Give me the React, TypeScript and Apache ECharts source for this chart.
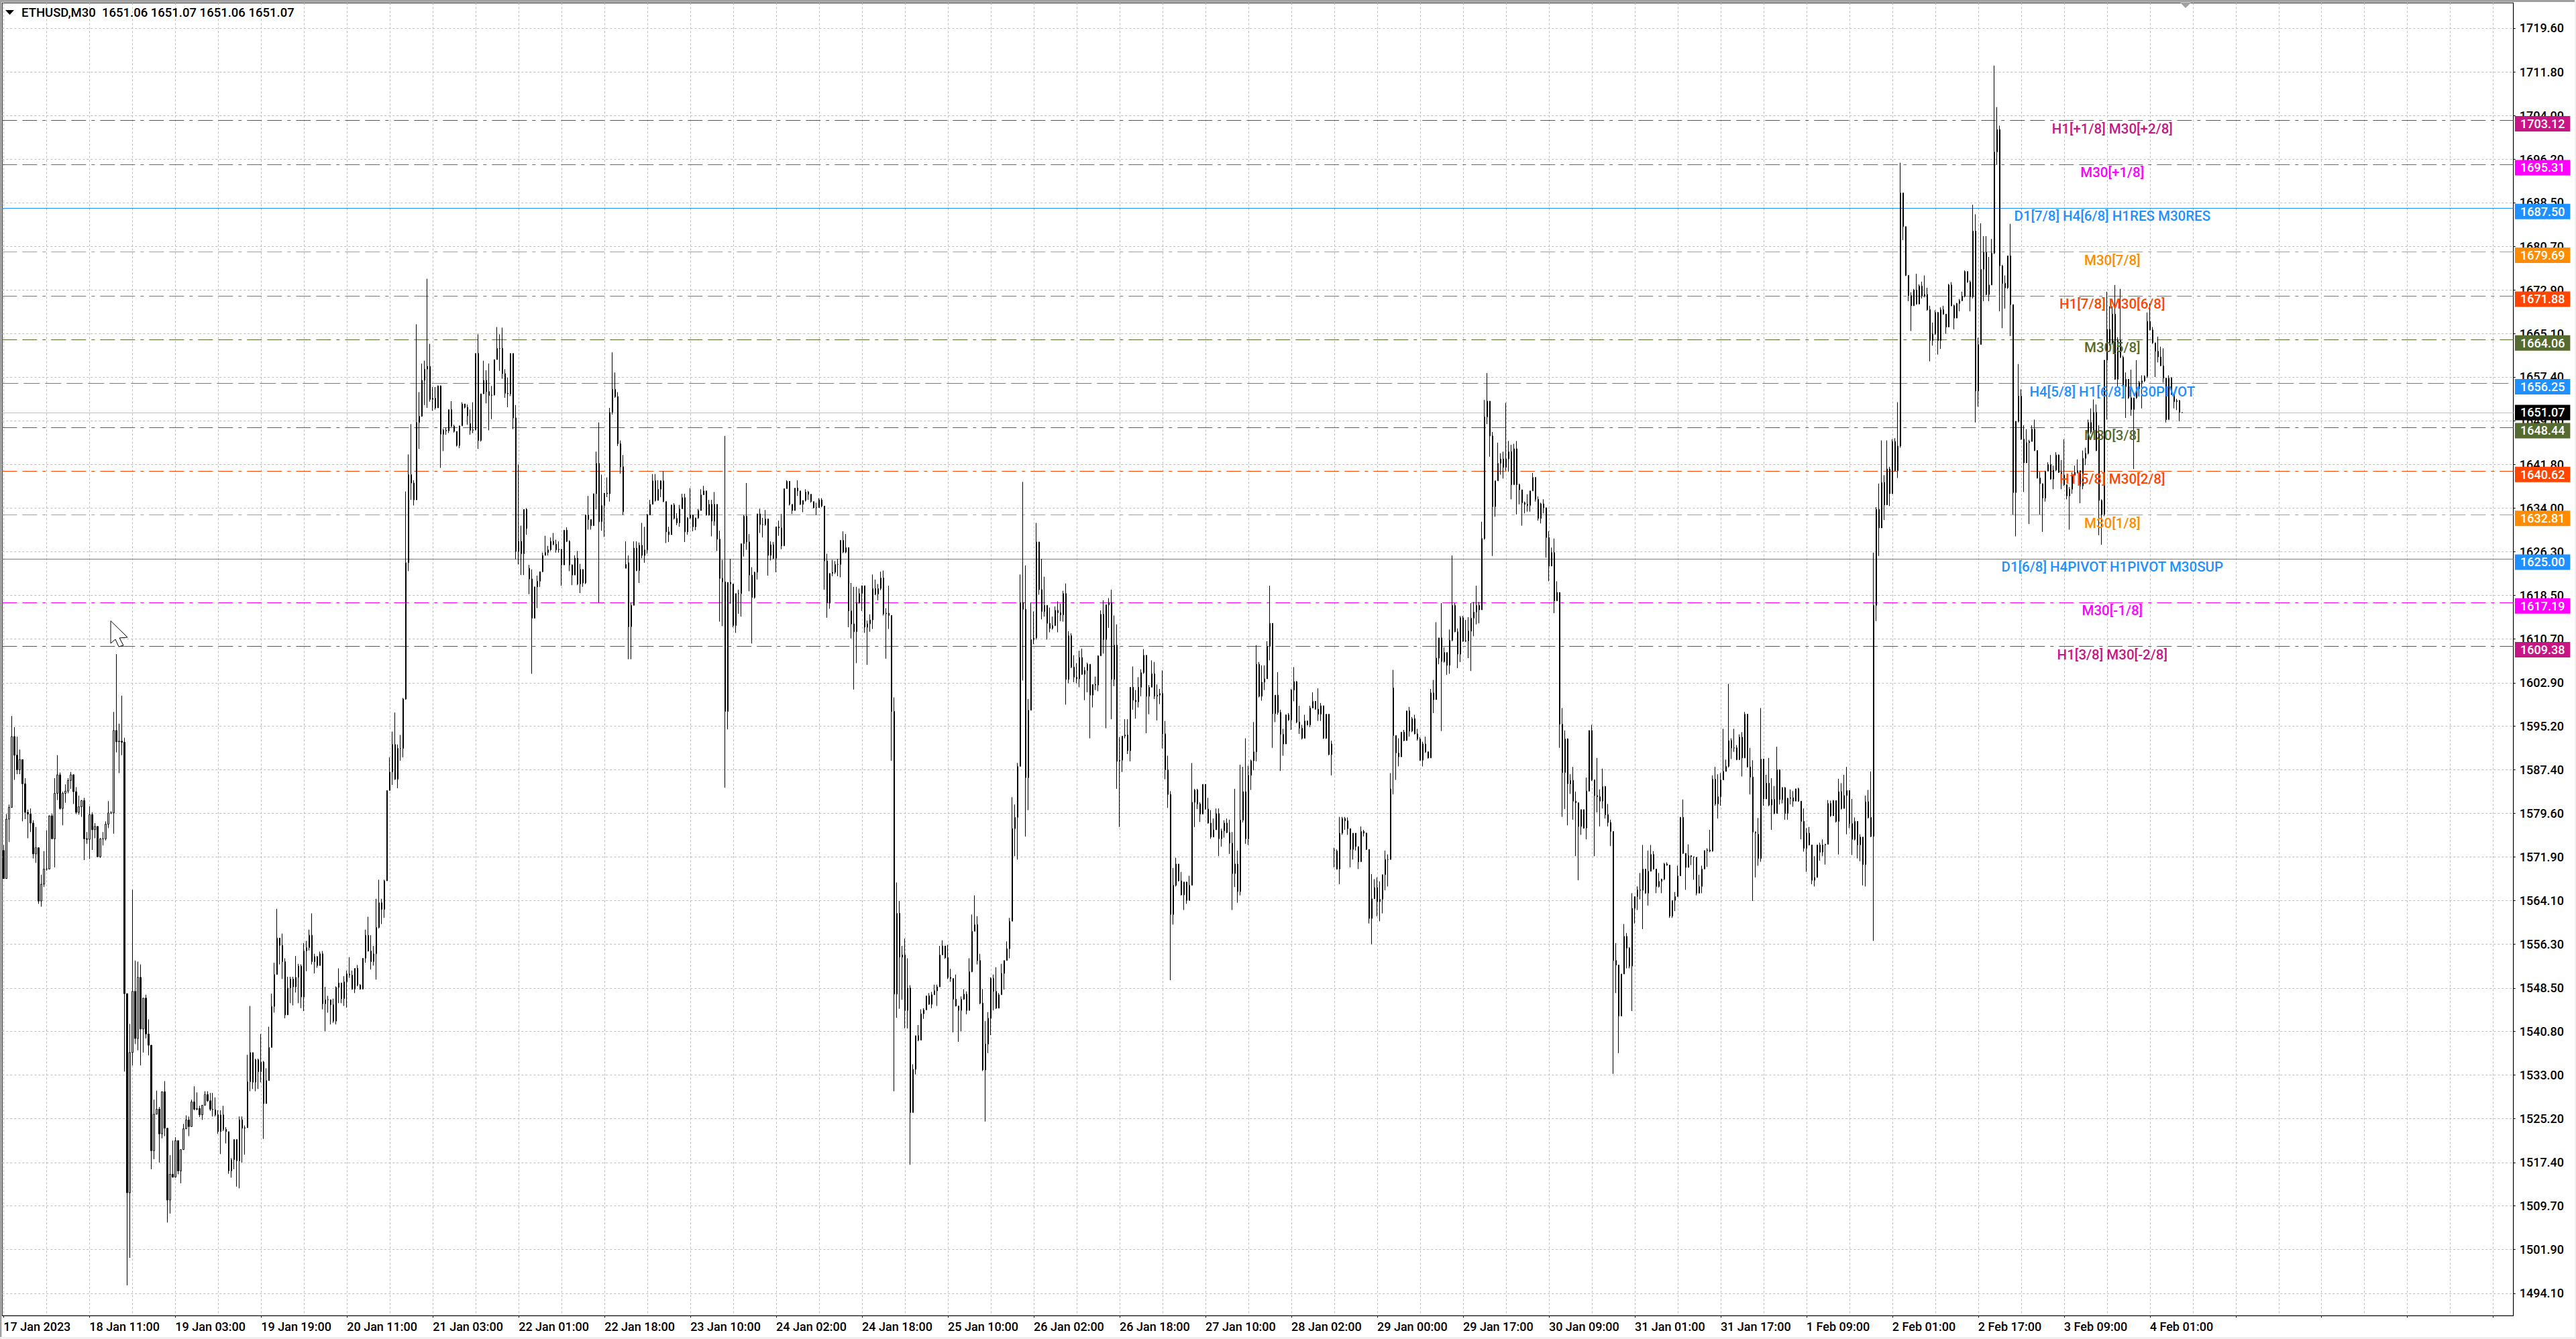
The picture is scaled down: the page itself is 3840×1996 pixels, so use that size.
import React, { useEffect, useRef } from "react";
import * as echarts from "echarts";

// each bar: [close, low, high, optional open]; open defaults to the previous close
const firstOpen = 1573;
const bars17Jan = [[1568,1568,1574],[1578.6,1568,1579.5],[1580.7,1574.5,1581.2],[1593.3,1580.7,1597],[1590,1585.6,1595],[1587.4,1586.6,1593.3],[1589.2,1586.6,1591],[1584.9,1578.2,1589.2],[1579.8,1578.6,1585.9],[1579.5,1575.2,1580.3],[1577.9,1576.3,1580.5],[1572.4,1571.6,1578.4],[1573.5,1570.8,1577.2],[1564,1563.5,1573.5],[1567,1563,1568.7],[1569.7,1566.5,1572.9],[1569.7,1569.4,1576.6],[1579.2,1569.7,1579.2],[1575.1,1575,1579.6],[1583.2,1570,1585.9],[1586.5,1582,1590],[1580.5,1580.3,1586.9],[1583.2,1577.5,1583.5],[1583.6,1581.5,1584.8],[1585.5,1583.2,1585.9],[1586.5,1584,1587],[1583.5,1581.3,1586.6],[1579.8,1579.5,1584.3],[1580.8,1579.4,1582.8],[1581.9,1579,1582],[1575.1,1571.3,1582.4],[1575,1574.2,1576.3],[1579.4,1571.5,1580.9],[1576.7,1573.1,1579.8],[1577.3,1575.2,1577.9],[1571.9,1571.8,1577],[1575.1,1571.7,1575.2],[1575.1,1573.9,1576.3],[1577.7,1574.8,1578.2],[1579.7,1577,1581.8],[1579.7,1579.5,1580],[1594.4,1576,1597.7],[1592.4,1590.5,1608],[1592.5,1586.8,1595.6],[1592.3,1590,1600.6],[1547.5,1533.6,1593.1],[1512,1495.5,1547.5],[1537,1500.4,1542.1],[1547.9,1534.7,1566],[1539.5,1538.5,1553.4],[1550.4,1537.4,1553.2],[1541.2,1534.7,1552.7],[1546.7,1537,1546.7],[1540.3,1539.5,1547.3],[1538.3,1536.5,1542.9],[1519.5,1516.2,1538.3],[1526,1518,1528.6],[1526.9,1526,1530.2],[1522.5,1517.4,1527.3],[1530,1521.7,1530],[1523.5,1522.1,1531.9],[1510.7,1506.7,1523.5],[1515.3,1508.3,1518.7],[1514.8,1514.7,1521.3],[1521.3,1514.7,1521.9],[1515.9,1515.3,1521.3],[1519.7,1513.7,1519.7],[1523.4,1519.7,1524.3],[1525,1523.4,1525.8],[1523.8,1522.1,1525.6],[1528.2,1523.8,1528.6],[1526.9,1526.7,1531],[1527,1526.7,1529.9],[1525.9,1525.5,1527.5],[1527.6,1525,1527.6],[1529.5,1527.6,1530.1],[1528.4,1528.2,1530.1],[1526.9,1526.6,1529.8],[1526.8,1525.6,1529.8],[1525.9,1525.6,1529],[1522.9,1522.5,1526.7],[1525.9,1518.9,1526.7],[1523.3,1523,1527.5],[1522.9,1520.8,1523.7],[1515.9,1515.4,1522.7],[1517.9,1514.7,1518.2],[1521.5,1516.2,1521.5],[1517.7,1513.1,1521.5],[1525,1512.8,1525.6],[1523.5,1517.4,1525.6],[1523.6,1518.8,1524],[1531.8,1523.6,1536.6],[1537,1530.1,1545.3],[1531.7,1530.5,1537],[1535.7,1530.1,1535.9],[1533.6,1530.5,1535.9],[1535.3,1531.7,1540.3],[1527.9,1521.6,1535.5],[1532,1527.9,1534.2],[1537.9,1532,1541.6],[1545.2,1537.9,1547.5],[1550.9,1544.1,1553],[1557.4,1550.9,1562.6],[1556.1,1552.7,1557.4],[1553.2,1550.1,1558.2],[1543.7,1543.1,1553.8],[1548.5,1543.7,1550.5],[1550.1,1545.8,1550.5],[1548.7,1545.4,1550.5],[1550.4,1547.7,1554.2],[1552.4,1545.8,1552.8],[1546.9,1544.9,1552.7],[1555.1,1544.4,1556.5],[1555.7,1551.5,1556.9],[1557.9,1555.2,1558.9],[1553.2,1552.7,1561.8],[1554.1,1551.1,1554.6],[1552.5,1552.1,1554.2],[1554.6,1552.5,1555],[1545.7,1544.7,1555.1],[1546.4,1540.8,1548.7],[1546.4,1544.1,1547.1],[1545.5,1542,1546],[1542.6,1542.3,1546.6]];
const bars20Jan = [[1548.6,1542,1548.8],[1549.4,1545.8,1552],[1546.6,1545.8,1549.4],[1549.6,1545.3,1550.6],[1551,1545,1551.6],[1550.8,1550.3,1554],[1548.3,1548.2,1551.6],[1552,1547.6,1552],[1549,1548.8,1552.6],[1548.3,1548.2,1549.2],[1553.8,1548.3,1553.8],[1557.9,1553,1558.9],[1555.1,1555,1561.2],[1553.2,1551.8,1557.9],[1554.6,1552.5,1556],[1559.3,1550,1564.4],[1563.7,1559.1,1567.8],[1562.5,1559.9,1564.4],[1567.6,1561,1567.8],[1583.7,1567.6,1583.7],[1587,1583.7,1589.6],[1591.9,1584.7,1594.2],[1585.7,1585.6,1597.6],[1591.2,1584.1,1591.9],[1591.2,1589,1593.6],[1600,1589.6,1600.2],[1624.3,1599.9,1637],[1640,1622.8,1643.6],[1638.5,1635.5,1649],[1635.5,1634.5,1639],[1649.3,1635.5,1666.8],[1650.4,1644.6,1654.7],[1656.8,1650.3,1659.8],[1658.8,1652.4,1660.3],[1659.3,1651.9,1674.9],[1653.4,1653,1663.3],[1653.6,1651.4,1655.6],[1651.9,1651.6,1655.6],[1655.8,1651.9,1655.9],[1647.2,1641.2,1655.9],[1647.9,1644.2,1648.2],[1647.8,1647.1,1648.4],[1651.6,1647.4,1651.6],[1648.6,1648.5,1653.1],[1647.7,1647.5,1648.9],[1645.2,1645,1647.7],[1648.7,1644.7,1648.7],[1652.6,1648.7,1652.9],[1652,1651.8,1652.6],[1650.5,1648.9,1652.5],[1647.9,1647.1,1651.6,1649.1],[1648,1647.4,1652.9],[1661.6,1647.9,1661.6],[1646.1,1644.6,1665],[1654.4,1645.9,1654.4],[1656.8,1654.4,1660.3],[1654.8,1652.7,1658.6],[1654.1,1647.9,1659.8],[1654.2,1649.9,1655.8],[1660.5,1654.1,1660.5],[1662.5,1660.5,1666.3],[1662.5,1658.5,1665],[1658,1657.1,1666.2],[1654.5,1653.7,1658.8],[1654.4,1652,1657.3],[1661.6,1654,1661.6],[1650.1,1648.1,1661.6],[1626.3,1624.9,1652.4],[1628.1,1624,1641.8],[1625.9,1622.1,1630.9],[1633.8,1622.1,1633.8],[1630.4,1629.3,1634],[1621.4,1618.7,1623.9,1623.3],[1614.4,1604.5,1623.1],[1620,1614.4,1620],[1621,1616.2,1622],[1622.7,1620,1622.7],[1625.6,1622.6,1626.1],[1626.1,1625.8,1629.1],[1626.6,1625.6,1627.3],[1628.1,1626.4,1628.8],[1627.6,1627.4,1629.6],[1626.6,1626.1,1628.4],[1626.7,1626.1,1628.1],[1623.9,1620.2,1626.6],[1630.1,1623.9,1630.1],[1628.1,1628,1630.6],[1623.9,1622.8,1628.3],[1622.1,1620.3,1624],[1625.1,1622.1,1625.6],[1620.5,1620.3,1626.4],[1623.1,1618.9,1624.1],[1620.7,1620,1623.1],[1632.8,1620.5,1632.9],[1632,1630.2,1636.2],[1630.9,1630.2,1632],[1636.6,1630.9,1636.6],[1642,1633.8,1644.1],[1631.6,1617.2,1649.3],[1634.5,1630,1640],[1636.7,1628.9,1636.7],[1636.6,1636,1639.5],[1651.1,1635.2,1651.9],[1655.2,1650.7,1661.8],[1653.9,1653.7,1658.2],[1645.5,1645.1,1654.7],[1641.4,1640.2,1646.1],[1633.4,1632.8,1643.5],[1624,1623.4,1628.1,1623.3],[1612.9,1607.1,1625.6,1624.3],[1616.7,1607.1,1617.2],[1626.9,1616.7,1628.1],[1622.9,1622.8,1628.1],[1627.4,1620.7,1627.9],[1625.6,1625.1,1631.4]];
const bars22Jan = [[1626.6,1624.3,1630.7],[1632.8,1625.9,1633],[1634.7,1632.8,1635.5],[1638.9,1634.7,1640.1],[1635.4,1635.2,1640.1],[1637.4,1635.4,1639],[1638.9,1636,1639],[1635.2,1635.1,1640.6],[1629.8,1627.8,1635.2],[1629.3,1628,1630.7],[1634.6,1629.3,1634.6],[1632.2,1632,1634.9],[1631.4,1631,1633.1],[1633.9,1630.7,1634.6],[1635.9,1633.9,1636.6],[1629.8,1628,1636.6],[1632.3,1629.3,1632.4],[1632.8,1632.1,1637.6],[1630.7,1629.9,1632.8],[1632.3,1630.1,1632.3],[1633.6,1632.1,1633.9],[1636.4,1633.6,1637.4],[1637.1,1636.4,1638],[1632.8,1632.7,1637.1],[1634.7,1632.7,1635.5],[1631.7,1629,1635.5],[1634.7,1630.9,1636.9],[1628.5,1626.4,1634.7],[1621.5,1613.8,1630],[1620.9,1613,1624.8],[1597.8,1584.2,1646.9],[1620.8,1594.6,1620.8],[1620.5,1617,1625],[1613.1,1612.8,1620],[1618.8,1611.8,1618.8],[1618.8,1615.2,1619.5],[1627.7,1614.7,1627.7],[1632.6,1625.4,1632.8],[1628,1626.6,1638.5],[1622.1,1619.2,1629.4],[1618.1,1609.9,1623.5],[1622.6,1617.9,1622.7],[1633,1621.3,1633],[1631.1,1629.6,1633.9],[1631.1,1628.8,1632.3],[1632.1,1630.9,1633.7],[1625.6,1622,1632.1],[1627.5,1624.7,1628.1],[1625.1,1625,1628],[1630.7,1622.6,1630.7],[1630.5,1629.1,1631.8],[1627.3,1626.7,1633],[1637.5,1627.3,1637.5],[1638.8,1637.5,1639],[1634.7,1634.5,1638.8],[1633.6,1633,1634.6],[1637.6,1633.6,1637.6],[1637.1,1636.2,1639],[1634.7,1634.6,1636.9],[1635.4,1633.3,1635.4],[1636.9,1635.2,1637.4],[1636.5,1635.5,1637.1],[1635.2,1635,1636.1],[1634.1,1634,1635],[1634.1,1632.8,1635],[1635.5,1634.1,1635.8],[1634.4,1634.2,1635.8],[1624.6,1619.5,1634.3],[1617.1,1614.5,1625.9],[1622.4,1616.1,1622.4],[1622.6,1621.9,1624.8],[1624,1622.3,1624.6],[1624,1621.9,1625],[1628.3,1621.7,1628.3],[1626.2,1626,1629.9],[1627,1626,1629.4],[1615.7,1612.8,1627],[1613.4,1610.8,1620.7],[1612,1601.7,1620],[1617.2,1606.4,1620],[1618.8,1617,1619.7],[1620.2,1615.7,1620.2],[1612.8,1611.8,1620.2],[1613.4,1606.1,1614],[1614.1,1612,1615.1],[1619.7,1612.5,1622.2],[1618.7,1618.5,1621.3],[1619.7,1617.6,1620.5],[1621.6,1619.4,1622.7],[1615.2,1614.9,1622.9],[1615.3,1607.2,1616.2],[1614.9,1612.5,1620.2],[1597.8,1589,1614.9],[1547.4,1530.1,1600.3],[1561.8,1543.2,1567.3],[1554,1544.8,1564],[1554.4,1546.4,1556],[1544.5,1541.3,1557.3],[1548.5,1541.3,1553.8],[1526.3,1517,1549],[1534,1526.3,1534.9],[1540,1533.1,1540],[1539.2,1539,1541.9],[1543.9,1539.2,1544.7],[1544.6,1543,1544.9],[1547.1,1544.6,1547.1],[1545.6,1545.5,1547.6],[1547.3,1544.9,1547.8],[1548,1547.3,1549.1],[1548.7,1545.3,1549.1],[1554.4,1548.7,1556],[1556,1554.4,1557],[1553.9,1553.7,1556],[1550.4,1550.1,1556.2],[1550.2,1549.6,1551.9]];
const bars25Jan = [[1546.5,1540.6,1550],[1545.3,1545.2,1550.9],[1544.5,1538.9,1545.3],[1546.5,1540.8,1547],[1547.4,1546.4,1548.3],[1544.5,1543.8,1547.9],[1551.4,1544.5,1553.8],[1558.6,1551.3,1561.6],[1559.8,1558.6,1565],[1553.4,1552.7,1561.3],[1545.8,1545.6,1554.6],[1533.9,1533.7,1548.3],[1538.5,1524.7,1542.6],[1543.1,1536.9,1544.2],[1550.2,1540.1,1550.4],[1547.9,1544.5,1550.9],[1544.9,1544.8,1552.2],[1547.3,1544.9,1547.6],[1551.1,1547.3,1552.8],[1553.4,1548.2,1553.4],[1555.5,1553.4,1556.8],[1560.4,1553.8,1561],[1576.9,1560.4,1582.5],[1578.9,1572,1581.2],[1588,1571.4,1588.6],[1617.2,1588,1622.2],[1616,1603.3,1638.7],[1586,1575.5,1623.8],[1598,1580.2,1600],[1610.6,1598,1617.2],[1610.9,1609.8,1615.6],[1628,1610.6,1631.4],[1619.5,1618.6,1628],[1615.6,1614.2,1625],[1616.7,1614.7,1621.8],[1613.5,1610.6,1616.5],[1612.6,1611.9,1616.3],[1613.1,1612.4,1614.7],[1615.8,1613,1616.5],[1615.4,1611.9,1617.4],[1615,1613.9,1617],[1618.8,1613.8,1619.3],[1603.5,1599,1620.6],[1611.3,1602.8,1612.1],[1605.7,1605.5,1611.7],[1603.9,1603,1607.8],[1603.6,1602.8,1606.4],[1607.4,1602.1,1608.6],[1604.4,1604.3,1609],[1605.1,1599.8,1605.7],[1606.2,1601.2,1606.5],[1600.7,1593,1605.8],[1602.6,1598.5,1602.6],[1602.5,1601.6,1604],[1607.7,1601.4,1607.8],[1615.1,1607.7,1615.8],[1610.6,1608.1,1617.6],[1616.8,1594.8,1616.8],[1617.2,1612.7,1618],[1603.5,1596.4,1619.5],[1609.6,1602.3,1614.9],[1588.9,1584,1613.3],[1589.1,1577.2,1593.2],[1593.4,1587,1593.4],[1593.6,1593,1596.4],[1590.8,1590.2,1596.4],[1602.1,1588.9,1602.1],[1599.8,1598.1,1605.8],[1599.5,1596.5,1601.6],[1602.1,1598.5,1603.9],[1604.7,1600.5,1605.3],[1607.8,1604.5,1608.9],[1600.5,1593.9,1607.8],[1602.1,1597.3,1602.5],[1604.5,1602.1,1606.9],[1600.5,1600,1606.6],[1600.7,1596.2,1602.6],[1601,1599.1,1601.8],[1593.8,1591.2,1605.1],[1587.4,1585.7,1596.1],[1583,1580.6,1589.9],[1561.6,1549.9,1583.6],[1566.8,1559.8,1569.9],[1570.6,1566.6,1571.7],[1567.6,1567.5,1570.6],[1565.1,1565,1569.2],[1567.4,1562.4,1567.4],[1564.1,1563.5,1567.4],[1566.8,1564.1,1568.5],[1581.6,1566.8,1588.6],[1583.8,1577.2,1584],[1581.3,1580.4,1584],[1579.5,1578.1,1581.6],[1584.8,1579.5,1584.8],[1580.4,1580.3,1584.8],[1577.9,1577.8,1582.4],[1575.4,1575.1,1580.2],[1576.7,1575.4,1578.7],[1579.6,1576.7,1580.5],[1575.1,1572,1580.5],[1576.5,1573.7,1576.9],[1577.9,1575.3,1578.4],[1576.2,1576.1,1578.7],[1574.3,1572.4,1578.5],[1568.9,1562.4,1576.3],[1570.6,1566.5,1584],[1565.7,1563.7,1573],[1578.4,1565,1588.3],[1583.5,1578,1587.9],[1575.1,1574.2,1593],[1586.4,1574,1588.1],[1589,1583.8,1589.2],[1590.6,1587.3,1595.9],[1606.2,1588.9,1609.6],[1600.5,1600.3,1606.6]];
const bars27Jan = [[1603,1599.7,1606],[1603.6,1601.6,1606],[1609.4,1603.6,1610.3],[1613.5,1606.9,1620.2],[1597.4,1591.3,1613.5],[1600.7,1595.9,1600.7],[1597.6,1597.2,1604.8],[1593.7,1587.2,1598.1],[1592,1589.9,1594.7],[1597.2,1592,1597.2],[1596.3,1596.1,1597.5],[1601.6,1594.5,1601.8],[1603.1,1599.6,1605.7],[1595.9,1595.7,1603.2],[1594.8,1593.8,1598.8],[1593,1592.8,1595.4],[1596.1,1593,1597.2],[1595.4,1595.3,1596.1],[1598.4,1595,1598.8],[1599.6,1598.4,1601.2],[1598.2,1598.1,1599.6],[1597.3,1596.1,1601.9],[1598.8,1596.1,1599.3],[1593,1592.9,1598.8],[1597.3,1592.9,1597.3],[1590.1,1590,1596.8],[1592,1586.4,1592.6],[1573,1570,1573.5,1573],[1569.7,1569.6,1573.2,1572.9],[1576.1,1567,1579],[1578.7,1575.8,1579],[1578.3,1576.7,1579],[1576.9,1575.8,1578.9],[1573.2,1570,1576.9],[1576.1,1571.4,1576.1],[1573.7,1573,1576.1],[1571,1569.7,1573.7],[1576.4,1571,1577.3],[1576.1,1575.5,1576.7],[1573.2,1573.1,1576.2],[1560.9,1560,1573.2],[1564.4,1556.3,1568.8],[1566.4,1564.4,1567.9],[1563.9,1561.3,1568.2],[1564.3,1560.4,1567.5],[1568.7,1561.8,1568.7],[1571.4,1565.9,1573],[1571.4,1566.6,1572.3],[1584,1571.4,1586.8],[1593.5,1583,1605.2,1602],[1590.4,1585.6,1593.5],[1589.7,1588,1593],[1594.1,1589.7,1594.1],[1592.6,1592.5,1594.5],[1597.9,1592.6,1597.9],[1594.3,1593.3,1598.6],[1596.5,1594.1,1596.8],[1593.8,1593.7,1597.2],[1592.9,1592.6,1594.7],[1589.1,1589,1593.2],[1592,1588,1592.4],[1590.6,1590.4,1593.3],[1589.5,1589.4,1590.5],[1601.1,1589.5,1601.8],[1599.9,1597.5,1603.4],[1607.3,1599.9,1613.7],[1610.9,1606.2,1610.9],[1606.7,1594.3,1617.1],[1608.3,1606.5,1609.2],[1606,1604.3,1608.3],[1610.5,1604.5,1612.4],[1616.7,1610.3,1625.6],[1612,1611.9,1617.1],[1608,1605.5,1612.6],[1614.5,1606.6,1614.8],[1610.3,1610.2,1614.8],[1610.4,1610.2,1614.1],[1612.1,1607.3,1614.6],[1614.4,1605,1617.1],[1615.5,1611.2,1617.3],[1616.7,1613.3,1620.2],[1615.9,1613.5,1617.3],[1628.6,1615.9,1631.6],[1650.3,1628.4,1653.3],[1653.1,1649,1658.1],[1646.9,1643.2,1650.5],[1634.3,1625.5,1647.6],[1638.9,1632.5,1638.9],[1642,1638.9,1645.7],[1642.8,1640,1643.8],[1641.3,1639.3,1644.1],[1642.8,1640.7,1652.8],[1644.1,1640.5,1646],[1638.2,1635.6,1645.3],[1644.6,1638.2,1645.5],[1638.2,1632.9,1646],[1637.3,1634.7,1638.4],[1635,1630.9,1637.2],[1634.7,1633.1,1635.2],[1634.5,1633.4,1636.5],[1637.1,1633.4,1637.1],[1639.5,1637.1,1640.3],[1635.6,1635.2,1639.5],[1632.2,1631.8,1636.1],[1634.8,1631.3,1635],[1634.1,1633.1,1635.6],[1628.8,1625.2,1634],[1623.7,1621,1629.9],[1626.1,1623.7,1627],[1617.5,1615.3,1628.6],[1619,1617.5,1621],[1595.5,1591.3,1619],[1586.9,1579,1598.4],[1592.9,1580.4,1594.4],[1584.9,1577.5,1593]];
const bars30Jan = [[1585.5,1583.1,1586.6],[1581.8,1578.5,1587.9],[1581.5,1572,1583.5],[1577.3,1567.7,1581.6],[1580.3,1575.8,1580.3],[1577,1576.9,1580.3],[1583.6,1575,1586],[1594.4,1583.5,1594.4],[1585.6,1585.4,1595.4],[1582.8,1572,1585.2],[1582.6,1579.8,1589.5],[1581.8,1577.3,1583.9],[1584.4,1580.5,1587.6],[1579.4,1578.7,1584.5],[1578,1577.3,1581.3],[1576.4,1573.8,1578.5],[1553.4,1533.2,1576.3],[1552.6,1547.6,1556.5],[1543.5,1536.9,1552.6],[1551,1543.5,1551],[1557.7,1551,1559.9],[1555.6,1552,1558.3],[1552.4,1552,1555.8],[1562.7,1544.4,1565.4],[1564.8,1560,1564.8],[1566,1562.4,1566.6],[1565.9,1564.3,1569],[1569.7,1559,1574],[1565.4,1565.3,1569.7],[1569.3,1563.2,1573],[1572.3,1569.3,1574],[1569.7,1569.6,1572.9],[1566.6,1565.4,1569.5],[1567.5,1566.4,1569],[1567.9,1565.4,1568],[1570.6,1567.7,1570.8],[1570.4,1570.3,1570.9],[1561.3,1561,1570.2],[1564.1,1561,1564.1],[1564.8,1562.2,1565.6],[1568.5,1564.8,1570.3],[1578.9,1568.5,1579],[1572.5,1572.4,1582.1],[1570,1566,1572.3],[1572.1,1570,1574.1],[1571.9,1570.4,1572.1],[1571.8,1567.8,1571.9],[1565.4,1565,1571.8],[1566.6,1565.4,1568.7],[1569.7,1565.4,1570.3],[1573,1569.7,1573],[1573.1,1570.1,1573.4],[1572.9,1572.7,1576.7],[1585.7,1572.8,1586.4],[1581.3,1581,1587.9],[1582.6,1578.7,1586.6],[1585.6,1581,1586.8],[1587.1,1585.6,1594.7],[1588,1587.1,1589.2],[1592.6,1587.8,1602.7],[1591.3,1589.3,1593],[1591.3,1590.6,1594.7],[1589.2,1589.1,1591.8],[1593.2,1589.2,1593.7],[1589.5,1586.2,1594.1],[1597.3,1589.5,1597.7],[1587.9,1587.8,1597.3],[1586.1,1583,1591.3],[1576.3,1564,1589.1],[1576.1,1568.2,1576.4],[1571.6,1570.3,1578.8,1575.9],[1589.3,1571,1598.4],[1582.2,1581,1589.3],[1585,1582.2,1586.5],[1581.1,1580.9,1589.5],[1582.1,1576.7,1585.9],[1579.6,1579.5,1584.5],[1587.4,1579.6,1591.5],[1582.1,1581.2,1587.4],[1584.2,1581.4,1584.3],[1579.6,1578.5,1584.3],[1582.3,1578.5,1582.4],[1582.4,1581.2,1583.9],[1581.8,1580.8,1583.6],[1584,1581.8,1584],[1581.8,1581.7,1584.2],[1578.2,1575,1581.8],[1573.4,1572.8,1580.5],[1576.1,1569.2,1577],[1574,1573.9,1577.2],[1567.7,1567,1574],[1568.2,1566.6,1572],[1574,1568.2,1574],[1572.7,1571.2,1574.4],[1574,1572,1575],[1574.1,1570.5,1574.2],[1581.4,1574.1,1582],[1579.2,1579,1581.9],[1581.9,1579.2,1582],[1578.2,1578,1581.9],[1583.5,1572.3,1585.8],[1580.5,1580.3,1585],[1582.8,1580.5,1586.5],[1583.7,1575.9,1587.9],[1577.8,1577,1583.7],[1575,1572.2,1582.2],[1578.2,1574.8,1578.9],[1574,1571.6,1578.1],[1575.4,1571.1,1575.9],[1570.5,1566.8,1575.4],[1581.7,1566.6,1582.8],[1578.9,1578.7,1583.8],[1575.5,1575.4,1587.1],[1616.7,1556.9,1626.1],[1633.8,1613.9,1634.2]];
const bars1Feb = [[1630.5,1625.5,1638.4],[1638.6,1630.5,1646.1],[1634.6,1631.9,1639.9],[1641,1634.6,1646.1],[1636.6,1634.4,1641.4],[1645.9,1636.6,1646.3],[1640.7,1640.6,1646.5],[1645.1,1639.4,1652.9],[1690.2,1644.8,1695.6],[1684.2,1681.8,1690.1],[1675.5,1675.4,1684.2],[1671.9,1670.9,1675.5],[1670.1,1665.6,1672.5],[1672.9,1670.1,1673.1],[1670.4,1670.3,1675.8],[1673.6,1670.4,1673.9],[1671.9,1671.4,1674.4],[1672.1,1671.6,1675.5],[1669.4,1669.2,1673.3],[1663.9,1660.2,1670.1],[1665.1,1663,1667.1],[1668.9,1664.9,1669.3],[1663.9,1661.4,1669],[1669.4,1662.4,1669.8],[1668.6,1668.5,1670.1],[1666.3,1665.1,1668.6],[1673.8,1666.3,1674],[1670.1,1670,1674.3],[1667.9,1665.9,1670.3],[1670.5,1667.9,1670.6],[1671,1669.1,1671.3],[1671.8,1670.9,1672.6],[1676.2,1671.6,1676.4],[1674.3,1674.2,1676],[1671.7,1669.1,1674.6],[1683.4,1671.4,1688.1],[1654.9,1649.3,1686.4],[1663.2,1652.1,1664.4],[1676.6,1663.2,1684.8],[1679.6,1670.9,1682.5],[1672.1,1672,1682.5],[1673.8,1670.9,1678.8],[1679.5,1673.8,1682],[1697.5,1679.3,1712.9],[1701.5,1695.2,1705.5],[1677.2,1669.1,1702.2],[1674.1,1666.1,1677.4],[1673.3,1669.6,1675.5],[1679,1673.1,1679],[1670.3,1664.7,1684.7],[1636.8,1632.9,1669.9],[1649.5,1629,1649.5],[1654,1649.3,1659.7],[1646.3,1646.2,1655.2],[1642.1,1636.9,1648.8],[1645.7,1642.1,1648.1],[1645.9,1631.2,1646.2],[1648.1,1645.9,1648.8],[1644.3,1644.2,1649.8],[1639.4,1639.3,1644.2],[1638.4,1632.9,1640.5],[1635.8,1629.8,1638.2],[1640.6,1635.2,1640.7],[1641.8,1640.6,1642.2],[1639.2,1639.1,1643.5],[1640.8,1637.4,1641.6],[1643.5,1640.6,1644],[1640.4,1640.3,1643.6],[1639.9,1637.4,1642.6],[1638.2,1638,1646.3],[1636.2,1635.6,1638.2],[1637.4,1630.2,1637.8],[1639.9,1636.6,1640.4],[1640.4,1639.9,1641.6],[1640.7,1640.2,1642.7],[1638,1634.9,1640.6],[1642.9,1637.4,1644.3],[1643.8,1641.7,1644.8],[1649.3,1643.6,1649.8],[1647.6,1647.3,1651.8],[1651.1,1647.6,1653.4],[1644.3,1644.2,1652.5],[1635.4,1629.2,1648.8,1647.3],[1632.9,1627.5,1635.6],[1660.4,1632.6,1660.4],[1665.9,1649.8,1672.6],[1663.5,1663,1670],[1668.6,1663.2,1670],[1657,1656.9,1673.8],[1663.9,1655.7,1664.5],[1660.9,1660.8,1673.1],[1655.7,1655.6,1661.2],[1657,1650.1,1658.2],[1653.7,1653.5,1657],[1651.6,1650.5,1658.7],[1653.7,1641,1653.7],[1655.3,1653.5,1660.4],[1656.4,1654.2,1656.7],[1656.7,1651.8,1657.7],[1657.5,1656.5,1657.7],[1667.3,1657.2,1668.9],[1665.8,1665.7,1670.5],[1663.5,1663.3,1666.3],[1662,1657.4,1663.2],[1661,1660,1664.6],[1659.4,1659.3,1662.8],[1657.2,1656.4,1662.5],[1649.8,1649.3,1657.2],[1657.2,1650,1657.7],[1654.3,1654.2,1657.4],[1653,1651.8,1654.3],[1653.2,1651.5,1653.5],[1651.1,1649.5,1653.3],[1651.07,1651.06,1651.07,1651.06]];

const xLabels = ["17 Jan 2023","18 Jan 11:00","19 Jan 03:00","19 Jan 19:00","20 Jan 11:00","21 Jan 03:00","22 Jan 01:00","22 Jan 18:00","23 Jan 10:00","24 Jan 02:00","24 Jan 18:00","25 Jan 10:00","26 Jan 02:00","26 Jan 18:00","27 Jan 10:00","28 Jan 02:00","29 Jan 00:00","29 Jan 17:00","30 Jan 09:00","31 Jan 01:00","31 Jan 17:00","1 Feb 09:00","2 Feb 01:00","2 Feb 17:00","3 Feb 09:00","4 Feb 01:00"];
const yTicks = [1719.6,1711.8,1704,1696.2,1688.5,1680.7,1672.9,1665.1,1657.4,1649.6,1641.8,1634,1626.3,1618.5,1610.7,1602.9,1595.2,1587.4,1579.6,1571.9,1564.1,1556.3,1548.5,1540.8,1533,1525.2,1517.4,1509.7,1501.9,1494.1];

const levelValues = [1703.12,1695.31,1687.5,1679.69,1671.88,1664.06,1656.25,1648.44,1640.62,1632.81,1625,1617.19,1609.38];
const levelNames = ["H1[+1/8] M30[+2/8]","M30[+1/8]","D1[7/8] H4[6/8] H1RES M30RES","M30[7/8]","H1[7/8] M30[6/8]","M30[5/8]","H4[5/8] H1[6/8] M30PIVOT","M30[3/8]","H1[5/8] M30[2/8]","M30[1/8]","D1[6/8] H4PIVOT H1PIVOT M30SUP","M30[-1/8]","H1[3/8] M30[-2/8]"];
const levelColors = ["#c71585","#ff00ff","#1e90ff","#ff8c00","#ff4500","#556b2f","#1e90ff","#556b2f","#ff4500","#ff8c00","#1e90ff","#ff00ff","#c71585"];
const bidPrice = 1651.07;
const titleText = "ETHUSD,M30  1651.06 1651.07 1651.06 1651.07";

const CATEGORY_COUNT = 936;
const LABEL_INDEX = 786;
const TAG_INDEX = 935;
const FONT = "Roboto";

function buildCandles() {
  const all = [...bars17Jan, ...bars20Jan, ...bars22Jan, ...bars25Jan, ...bars27Jan, ...bars30Jan, ...bars1Feb];
  let prev = firstOpen;
  return all.map((b) => {
    const open = b[3] !== undefined ? b[3] : prev;
    const close = b[0];
    prev = close;
    return [open, close, Math.min(b[1], open, close), Math.max(b[2], open, close)];
  });
}

function levelLineStyle(value: number, color: string) {
  if (value === 1687.5 || value === 1625) return { color, type: "solid", width: 1, opacity: 1 };
  if (value === 1656.25) return { color, type: [24, 8], width: 1, opacity: 1 };
  return { color, type: [22, 8, 22, 8, 5, 8], width: 1, opacity: 1 };
}

export default function App() {
  const ref = useRef<HTMLDivElement>(null);
  useEffect(() => {
    document.body.style.margin = "0";
    const chart = echarts.init(ref.current!, undefined, { renderer: "svg" });
    const categories = Array.from({ length: CATEGORY_COUNT }, (_, i) => String(i));
    const tagLabel = (bg: string, dy: number) => ({
      show: true, position: "right", distance: 3.8, offset: [0, dy], color: "#ffffff", opacity: 1,
      backgroundColor: bg, padding: [3, 8, 3, 8], fontFamily: FONT, fontSize: 18, fontWeight: 500, lineHeight: 17,
      formatter: (p: any) => p.value[1].toFixed(2),
    });
    chart.setOption({
      animation: false,
      backgroundColor: "#ffffff",
      title: {
        text: titleText, left: 32, top: 9, padding: 0,
        textStyle: { fontFamily: FONT, fontSize: 18.5, fontWeight: 500, color: "#000000", lineHeight: 20 },
      },
      grid: { left: 3.3, top: 4.3, width: 3743.4, height: 1957, show: true, borderColor: "#000000", borderWidth: 1, backgroundColor: "#ffffff" },
      xAxis: {
        type: "category", data: categories, boundaryGap: true,
        axisLine: { show: true, lineStyle: { color: "#000000", width: 1 } },
        axisTick: { show: true, alignWithLabel: true, interval: 31, length: 3, lineStyle: { color: "#000000" } },
        axisLabel: {
          show: true, interval: 31, align: "left", margin: 7, color: "#000000", fontFamily: FONT, fontSize: 18, fontWeight: 500,
          formatter: (v: string) => xLabels[Number(v) / 32] || "",
        },
        splitLine: { show: true, interval: 15, alignWithLabel: true, lineStyle: { color: "#bdbdbd", type: [3, 3], width: 1 } },
      },
      yAxis: {
        type: "value", position: "right", min: 1490.09, max: 1724.08, scale: true,
        axisLine: { show: true, lineStyle: { color: "#000000", width: 1 } },
        axisTick: { show: true, length: 3, customValues: yTicks, lineStyle: { color: "#000000" } },
        axisLabel: {
          show: true, customValues: yTicks, margin: 9, color: "#000000", fontFamily: FONT, fontSize: 18, fontWeight: 500,
          formatter: (v: number) => v.toFixed(2),
        },
        splitLine: { show: true, lineStyle: { color: "#bdbdbd", type: [3, 3], width: 1 } },
      },
      series: [
        {
          type: "candlestick", name: "ETHUSD,M30", z: 2, barWidth: 2, large: false, progressive: 0, data: buildCandles(),
          itemStyle: { color: "#ffffff", color0: "#000000", borderColor: "#000000", borderColor0: "#000000", borderColorDoji: "#000000", borderWidth: 1, opacity: 1 },
          markLine: {
            silent: true, symbol: "none", z: 1, animation: false, label: { show: false },
            data: [
              ...levelValues.map((v, i) => ({ yAxis: v, lineStyle: levelLineStyle(v, levelColors[i]) })),
              { yAxis: bidPrice, lineStyle: { color: "#c0c0c0", type: "solid", width: 1, opacity: 1 } },
            ],
          },
        },
        {
          type: "scatter", name: "levels", z: 3, symbolSize: 1, clip: false, silent: true,
          itemStyle: { color: "transparent", opacity: 1 },
          data: levelValues.map((v, i) => ({
            value: [LABEL_INDEX, v],
            label: {
              show: true, position: "inside", offset: [0, 12], color: levelColors[i], opacity: 1, fontFamily: FONT, fontSize: 20.5, fontWeight: 500,
              formatter: levelNames[i],
            },
          })),
        },
        {
          type: "scatter", name: "tags", z: 4, symbolSize: 1, clip: false, silent: true,
          itemStyle: { color: "transparent", opacity: 1 },
          data: [
            ...levelValues.map((v, i) => ({ value: [TAG_INDEX, v], label: tagLabel(levelColors[i], 5) })),
            { value: [TAG_INDEX, bidPrice], label: tagLabel("#000000", 0) },
          ],
        },
      ],
      graphic: [
        { type: "rect", z: 10, shape: { x: 0, y: 0, width: 3840, height: 3 }, style: { fill: "#a0a0a0" } },
        { type: "rect", z: 10, shape: { x: 0, y: 0, width: 2.4, height: 1996 }, style: { fill: "#a0a0a0" } },
        { type: "rect", z: 10, shape: { x: 3838, y: 0, width: 2, height: 1996 }, style: { fill: "#f0f0f0" } },
        { type: "rect", z: 10, shape: { x: 0, y: 1993, width: 3840, height: 3 }, style: { fill: "#f0f0f0" } },
        { type: "polygon", z: 10, shape: { points: [[8, 15], [21, 15], [14.5, 22]] }, style: { fill: "#000000" } },
        { type: "polygon", z: 10, shape: { points: [[3250, 4], [3266, 4], [3258, 12]] }, style: { fill: "#a0a0a0" } },
        { type: "polygon", z: 10, shape: { points: [[165, 925.5], [190, 950], [178, 951], [184, 962], [177, 964], [172, 953], [165, 959]] }, style: { fill: "#ffffff", stroke: "#000000", lineWidth: 1 } },
      ],
    });
    return () => chart.dispose();
  }, []);
  return <div ref={ref} style={{ position: "fixed", left: 0, top: 0, width: 3840, height: 1996 }} />;
}
